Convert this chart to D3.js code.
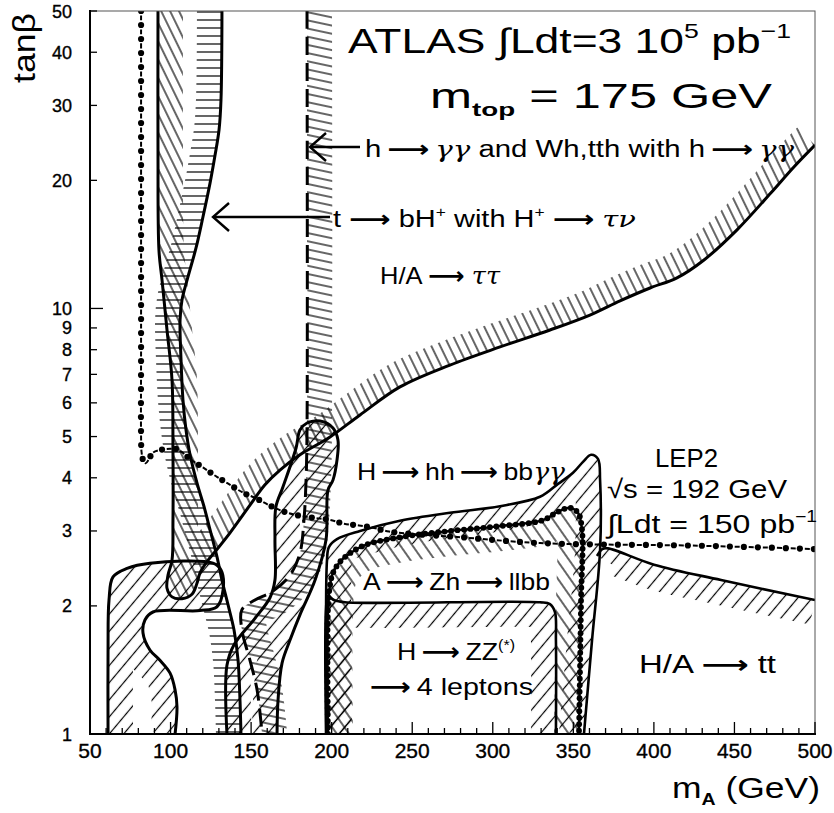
<!DOCTYPE html>
<html><head><meta charset="utf-8">
<script src="https://cdn.jsdelivr.net/npm/d3@7"></script>
<style>body{margin:0;background:#fff}svg{display:block}</style>
</head><body>
<svg id="c" width="834" height="813"></svg>
<script>
// ---------------- data (mA in GeV, tanβ) ----------------
const xTickValues = [50,100,150,200,250,300,350,400,450,500];
const yTickLabels = [1,2,3,4,5,6,7,8,9,10,20,30,40,50];

const lep2 = [[81.7,50],[81.7,20],[81.7,8],[81.7,5.0],[82.0,4.6],[83.0,4.4],[84.6,4.33],[86.5,4.42],[89,4.58],[94.7,4.66],[100,4.68],[104.6,4.66],[112.7,4.41],[120.1,4.23],[128.8,4.02],[137,3.85],[145,3.69],[152.4,3.59],[161.7,3.44],[170.4,3.33],[179.7,3.26],[189,3.22],[198.3,3.19],[207.7,3.12],[217,3.09],[226.3,3.05],[235.6,2.99],[280,2.90],[329.3,2.81],[428,2.77],[500,2.72]];

const tauTau = [[92.2,50],[92.2,23.6],[92.8,13.7],[94.7,11.67],[97.8,8.9],[100.9,6.79],[101.5,4.65],[101.5,3.18],[100.9,2.56],[98.4,2.36],[97.8,2.2],[100.9,2.1],[107.1,2.08],[113.3,2.13],[116.4,2.26],[118.3,2.39],[122.6,2.54],[127.6,2.68],[136.9,2.97],[149.3,3.45],[158.6,3.85],[167.9,4.17],[180.3,4.53],[199,4.99],[217.6,5.62],[242.4,6.54],[273.4,7.36],[304.5,8.12],[335.5,8.9],[360.3,9.65],[379,10.42],[397.6,11.17],[414.3,11.8],[431.1,13.0],[451.6,15.3],[472.7,18.7],[486.9,21.5],[500,24.2]];
const tauTauClose = [[500,50]];

const hPlus = [[131.9,50],[131.3,30.9],[130.1,26.3],[127.6,22.9],[124.5,19.7],[120.1,16.4],[115.8,13.87],[110.8,11.86],[107.1,10.47],[105.9,9.4],[106.5,7.57],[107.7,6.1],[109.6,5.18],[112.1,4.53],[116.4,3.89],[120.8,3.42],[124.5,3.02],[128.8,2.61],[131.9,2.3],[135.7,2.01],[139.4,1.755],[141.9,1.49],[143.1,1.2],[143.7,1]];
const hPlusClose = [[50,1],[50,50]];

const horseshoe = [[61.2,1],[61.2,1.575],[61.8,2.065],[64.3,2.34],[73,2.45],[87.2,2.52],[126.3,2.52],[131.3,2.43],[132.6,2.18],[128.8,1.99],[118.3,1.95],[89.1,1.935],[84.1,1.853],[82.9,1.727],[87.2,1.575],[93.4,1.49],[99.7,1.39],[102.8,1.27],[104,1.157],[102.8,1]];

const hhBlob = [[135,1],[135,1.45],[139.4,1.62],[152.4,1.87],[161.7,2.09],[164.8,2.3],[164.8,2.86],[165.4,3.42],[169.8,3.81],[177.9,4.7],[180.3,5.18],[184.7,5.38],[192.8,5.44],[200.8,5.24],[203.9,4.91],[203.3,4.4],[200.8,3.95],[197.7,3.74],[196.5,2.86],[189.7,2.3],[180.3,1.905],[174.1,1.66],[169.2,1.468],[166.7,1.2],[166.1,1]];

const hGamGam = [[184.7,50],[184.7,5.18],[184.1,3.95],[182.8,3.18],[180.3,2.66],[174.1,2.36],[163,2.16],[152.4,2.065],[144.3,1.96],[144.3,1.755],[149.3,1.49],[153.7,1.27],[156.8,1]];
const hGamGamClose = [[500,1],[500,50]];

const aZh = [[197.7,1],[197.7,1.96],[199,2.24],[200.8,2.39],[205.2,2.54],[211.4,2.66],[220.7,2.78],[242.4,2.9],[273.4,3.0],[304.5,3.08],[331.2,3.18],[339.9,3.32],[347.9,3.4],[352.9,3.31],[355.4,3.02],[354.8,2.065],[353.5,1]];

const hZZ = [[196.5,1],[196.5,1.96],[197.7,2.11],[201.4,2.065],[208.3,2.04],[329.3,2.04],[335.5,2.02],[338.6,1.935],[339.2,1.66],[339.2,1]];

const hhRegion = [[197.1,1],[197.1,2.56],[198.3,2.75],[203.3,2.87],[217.6,3.0],[242.4,3.17],[273.4,3.31],[304.5,3.43],[329.3,3.61],[340.5,3.87],[349.8,4.11],[356,4.36],[361,4.53],[365.3,4.43],[366.6,3.95],[366.6,2.71],[361.6,1.66],[356.6,1]];

const ttRegion = [[364.7,2.62],[368,2.72],[371.5,2.73],[400.1,2.5],[441.7,2.3],[500,2.065]];
const ttClose = [[500,1],[364.7,1]];

// ---------------- drawing ----------------
const svg = d3.select('#c');
const x = d3.scaleLinear().domain([50,500]).range([90,815]);
const y = d3.scaleLog().domain([1,50]).range([734,11]);
const FONT = '"Liberation Sans", Arial, sans-serif';

const defs = svg.append('defs');
function hatch(id, angle, spacing, sw){
  const p = defs.append('pattern').attr('id',id).attr('patternUnits','userSpaceOnUse')
    .attr('width',spacing).attr('height',spacing).attr('patternTransform',`rotate(${angle})`);
  p.append('line').attr('x1',spacing/2).attr('y1',-1).attr('x2',spacing/2).attr('y2',spacing+1)
    .attr('stroke','#000').attr('stroke-width',sw);
}
hatch('pBack', -35, 10, 1.2);   // "\\"
hatch('pTau', -26, 8, 1.2);     // steep "\\"
hatch('pFwd', 40, 11, 1.2);     // "/"
hatch('pHor', 90, 8, 1.2);      // horizontal
hatch('pShal', -78, 8, 1.2);    // shallow "\\"

defs.append('clipPath').attr('id','plotClip').append('rect')
  .attr('x',90).attr('y',11).attr('width',725).attr('height',723);

const line = d3.line().x(d=>x(d[0])).y(d=>y(d[1])).curve(d3.curveCatmullRom.alpha(0.5));

const plot = svg.append('g').attr('clip-path','url(#plotClip)');
const hatchLayer = plot.append('g');
const lineLayer = plot.append('g');

let cid = 0;
function contour(pts, closeExtra, pattern, style){
  const d = line(pts);
  const reg = d + closeExtra.map(p=>`L${x(p[0])},${y(p[1])}`).join('') + 'Z';
  const id = 'cp'+(cid++);
  defs.append('clipPath').attr('id',id).append('path').attr('d',reg);
  hatchLayer.append('g').attr('clip-path',`url(#${id})`)
    .append('path').attr('d',d).attr('fill','none')
    .attr('stroke',`url(#${pattern})`).attr('stroke-width',50).attr('stroke-linejoin','round');
  const p = lineLayer.append('path').attr('d',d).attr('fill','none')
    .attr('stroke','#000').attr('stroke-width',style.w||3).attr('stroke-linejoin','round');
  if(style.dash) p.attr('stroke-dasharray',style.dash);
  return p;
}
function dotsAlong(pathSel, spacing, r, offset){
  const node = pathSel.node();
  const L = node.getTotalLength();
  for(let s=offset||0; s<=L; s+=spacing){
    const pt = node.getPointAtLength(s);
    lineLayer.append('circle').attr('cx',pt.x).attr('cy',pt.y).attr('r',r).attr('fill','#000');
  }
}

contour(horseshoe, [], 'pFwd', {});
contour(hhBlob, [], 'pFwd', {});
contour(hhRegion, [], 'pFwd', {w:2.6});
contour(hZZ, [], 'pFwd', {w:2.6});
contour(ttRegion, ttClose, 'pFwd', {w:2.6});
contour(tauTau, tauTauClose, 'pTau', {});
contour(hPlus, hPlusClose, 'pHor', {});
contour(hGamGam, hGamGamClose, 'pShal', {w:3, dash:'18,8'});
const az = contour(aZh, [], 'pBack', {w:2.4});
dotsAlong(az, 6.5, 2.9, 0);

// LEP2 dash-dot line
const lp = lineLayer.append('path').attr('d', line(lep2)).attr('fill','none')
  .attr('stroke','#000').attr('stroke-width',2).attr('stroke-dasharray','5,9').attr('stroke-dashoffset',-4.5);
dotsAlong(lp, 14, 3.1, 0);

// ---------------- frame & axes ----------------
svg.append('rect').attr('x',90).attr('y',11).attr('width',725).attr('height',723)
  .attr('fill','none').attr('stroke','#555').attr('stroke-width',1);
svg.append('line').attr('x1',90).attr('x2',90).attr('y1',10).attr('y2',735).attr('stroke','#000').attr('stroke-width',2);
svg.append('line').attr('x1',89).attr('x2',816).attr('y1',734).attr('y2',734).attr('stroke','#000').attr('stroke-width',2);

const xAxis = svg.append('g');
d3.range(50,501,10).forEach(v=>{
  const major = xTickValues.includes(v);
  xAxis.append('line').attr('x1',x(v)).attr('x2',x(v)).attr('y1',734).attr('y2',734-(major?12:6))
    .attr('stroke','#000').attr('stroke-width',1.3);
});
xTickValues.forEach(v=>{
  xAxis.append('text').attr('x',x(v)).attr('y',758).attr('text-anchor','middle')
    .attr('font-family',FONT).attr('font-size',21).attr('stroke','#000').attr('stroke-width',0.35).text(v);
});
const yAxis = svg.append('g');
yTickLabels.forEach(v=>{
  const major = (v===1||v===10);
  yAxis.append('line').attr('x1',90).attr('x2',90+(major?13:7)).attr('y1',y(v)).attr('y2',y(v))
    .attr('stroke','#000').attr('stroke-width',1.3);
  yAxis.append('text').attr('x',72).attr('y',y(v)+6.5).attr('text-anchor','end')
    .attr('font-family',FONT).attr('font-size',18).attr('stroke','#000').attr('stroke-width',0.35).text(v);
});

// ---------------- text ----------------
const ARR = {arr:'⟶'};
function label(x0, y0, parts, size, width){
  const t = svg.append('text').attr('x',x0).attr('y',y0).attr('font-family',FONT)
    .attr('font-size',size).attr('fill','#000');
  let shift = 0;
  parts.forEach(p=>{
    const ts = t.append('tspan');
    let target = 0;
    if(typeof p === 'string'){ ts.text(p); }
    else if(p.sup){ ts.text(p.sup).attr('font-size',size*0.6); target = -size*0.42; }
    else if(p.sub){ ts.text(p.sub).attr('font-size',size*0.55).attr('font-weight','bold'); target = size*0.22; }
    else if(p.it){ ts.text(p.it).attr('font-style','italic').attr('font-family','"DejaVu Serif", serif'); }
    else if(p.arr){ ts.text(p.arr).attr('font-family','"DejaVu Sans", sans-serif').attr('font-weight','bold'); }
    if(target!==shift){ ts.attr('dy', target-shift); shift = target; }
  });
  if(width) t.attr('textLength',width).attr('lengthAdjust','spacingAndGlyphs');
  return t;
}
const S = '\u2009';
label(348, 53, ['ATLAS ∫Ldt=3 10',{sup:'5'},' pb',{sup:'−1'}], 35, 443);
label(430, 108, ['m',{sub:'top'},' = 175 GeV'], 35, 342);
label(365, 157, ['h'+S,ARR,S,{it:'γγ'},' and Wh,tth with h'+S,ARR,S,{it:'γγ'}], 23, 429);
label(333, 227, ['t ',ARR,' bH',{sup:'+'},' with H',{sup:'+'},' ',ARR,' ',{it:'τν'}], 23, 303);
label(380, 284, ['H/A ',ARR,' ',{it:'ττ'}], 24, 120);
label(357, 480, ['H'+S,ARR,S+'hh'+S,ARR,S+'bb',{it:'γγ'}], 24, 208);
label(655, 467, ['LEP2'], 26, 63);
label(607, 498, ['√s = 192 GeV'], 26, 180);
label(607, 533, ['∫Ldt = 150 pb',{sup:'−1'}], 26, 210);
label(363, 590, ['A'+S,ARR,S+'Zh'+S,ARR,S+'llbb'], 24, 187);
label(397, 660, ['H'+S,ARR,S+'ZZ',{sup:'(*)'}], 24, 118);
label(370, 695, [ARR,S+'4 leptons'], 24, 163);
label(639, 673, ['H/A ',ARR,' tt'], 25, 137);
label(672, 798, ['m',{sub:'A'},' (GeV)'], 30, 148);
svg.append('text').attr('transform','translate(35,13) rotate(-90)').attr('text-anchor','end')
  .attr('font-family',FONT).attr('font-size',32).attr('textLength',70).attr('lengthAdjust','spacingAndGlyphs').text('tanβ');

// arrows
function arrow(x1, x2, yy){
  const g = svg.append('g').attr('stroke','#000').attr('stroke-width',2.4).attr('fill','none');
  g.append('line').attr('x1',x1).attr('x2',x2).attr('y1',yy).attr('y2',yy);
  g.append('polyline').attr('points',`${x2+16},${yy-14} ${x2},${yy} ${x2+16},${yy+14}`);
}
arrow(360, 310, 147);
arrow(330, 213, 217);
</script>
</body></html>
